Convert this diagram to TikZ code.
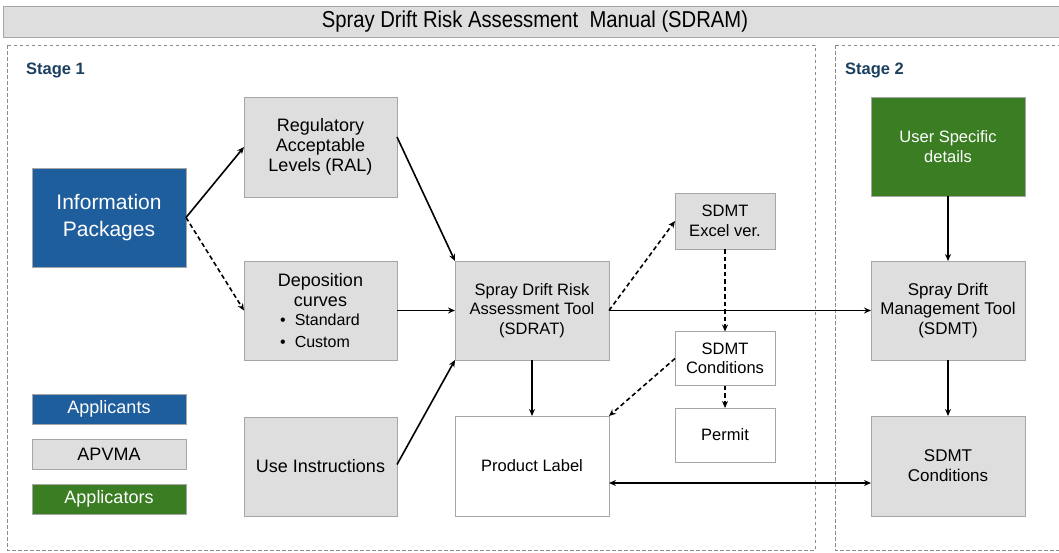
\documentclass[tikz,border=0pt]{standalone}
\usepackage{fontspec}
\setmainfont{Liberation Sans}
\newfontfamily\narrowfont[FakeStretch=0.88]{Liberation Sans}
\usetikzlibrary{arrows.meta}

\definecolor{appblue}{HTML}{1F5E9C}
\definecolor{appgreen}{HTML}{3A7D22}
\definecolor{boxgray}{HTML}{DEDEDE}
\definecolor{edgegray}{HTML}{A6A6A6}
\definecolor{framegray}{HTML}{8C8C8C}
\definecolor{stageblue}{HTML}{1B3F5E}

\tikzset{
  box/.style={draw=edgegray, line width=0.8pt, fill=boxgray, align=center,
    inner sep=2pt, outer sep=0pt, font=\fontsize{18}{20}\selectfont},
  whitebox/.style={box, fill=white},
  bluebox/.style={box, fill=appblue, draw=edgegray, text=white},
  greenbox/.style={box, fill=appgreen, draw=edgegray, text=white},
  frame/.style={draw=framegray, line width=0.9pt, dash pattern=on 3.5pt off 2.5pt},
  arr/.style={draw=black, line width=1.6pt, -{Stealth[length=7pt,width=6pt]}},
  darr/.style={arr, dash pattern=on 4.5pt off 3pt},
  stagelbl/.style={anchor=west, text=stageblue, inner sep=0pt,
    font=\fontsize{16.5}{18}\selectfont\bfseries},
}

\begin{document}
\begin{tikzpicture}[x=1pt, y=-1pt]
\useasboundingbox (0,0) rectangle (1059,552);
\clip (0,0) rectangle (1059,552);

% header bar
\node[box, minimum width=1064pt, minimum height=31pt, anchor=north west,
  font=\narrowfont\fontsize{23}{24}\selectfont] (title) at (3,6)
  {Spray Drift Risk Assessment\ \ Manual (SDRAM)};

% stage frames
\draw[frame] (7,45) rectangle (815,550);
\draw[frame] (835,45) rectangle (1070,550);
\node[stagelbl] (s1) at (26,70) {Stage 1};
\node[stagelbl] (s2) at (845,70) {Stage 2};

% stage 1 nodes
\node[bluebox, minimum width=154pt, minimum height=99pt, font=\fontsize{21}{27}\selectfont]
  (info) at (109,217.5) {Information\\Packages};
\node[box, minimum width=153pt, minimum height=100pt] (ral) at (320.5,147)
  {Regulatory\\Acceptable\\Levels (RAL)};
\node[box, minimum width=153pt, minimum height=99pt] (dep) at (320.5,310.5) {};
\node[align=center, inner sep=0pt, font=\fontsize{18}{19.5}\selectfont] (deptxt) at (320.5,290)
  {Deposition\\curves};
\node[anchor=west, inner sep=0pt, font=\fontsize{16}{18}\selectfont] (std) at (280,320)
  {\textbullet\hspace{9pt}Standard};
\node[anchor=west, inner sep=0pt, font=\fontsize{16}{18}\selectfont] (cus) at (280,342)
  {\textbullet\hspace{9pt}Custom};
\node[box, minimum width=153pt, minimum height=99pt] (use) at (320.5,466.5) {Use Instructions};
\node[box, minimum width=154pt, minimum height=99pt, font=\fontsize{16.5}{19.5}\selectfont]
  (sdrat) at (532,310.5) {Spray Drift Risk\\Assessment Tool\\(SDRAT)};
\node[box, minimum width=100pt, minimum height=56pt, font=\fontsize{16.5}{19.5}\selectfont]
  (excel) at (725,221) {SDMT\\Excel ver.};
\node[whitebox, minimum width=100pt, minimum height=54pt, font=\fontsize{16.5}{19.5}\selectfont]
  (cond) at (725,358.5) {SDMT\\Conditions};
\node[whitebox, minimum width=100pt, minimum height=54pt, font=\fontsize{16.5}{19.5}\selectfont]
  (permit) at (725,435) {Permit};
\node[whitebox, minimum width=154pt, minimum height=100pt, font=\fontsize{16.5}{19.5}\selectfont]
  (label) at (532,466) {Product Label};

% legend
\node[bluebox, minimum width=154pt, minimum height=30pt] (lapp) at (109,409) {Applicants};
\node[box, minimum width=154pt, minimum height=30pt] (lapv) at (109,454) {APVMA};
\node[greenbox, minimum width=154pt, minimum height=30pt] (lapl) at (109,499) {Applicators};

% stage 2 nodes
\node[greenbox, minimum width=154pt, minimum height=99pt, font=\fontsize{16.5}{20}\selectfont]
  (user) at (948,146.5) {User Specific\\details};
\node[box, minimum width=154pt, minimum height=99pt, font=\fontsize{17}{19.5}\selectfont]
  (sdmt) at (948,310.5) {Spray Drift\\Management Tool\\(SDMT)};
\node[box, minimum width=154pt, minimum height=100pt, font=\fontsize{17}{20}\selectfont]
  (cond2) at (948,466) {SDMT\\Conditions};

% connectors
\draw[arr] (info.east) -- (ral.west);
\draw[darr] (info.east) -- (dep.west);
\draw[arr] ([yshift=10pt]ral.east) -- (sdrat.north west);
\draw[arr] (dep.east) -- (sdrat.west);
\draw[arr] ([yshift=2pt]use.east) -- (sdrat.south west);
\draw[darr] (sdrat.east) -- (excel.west);
\draw[arr] (sdrat.east) -- (sdmt.west);
\draw[darr] (excel.south) -- (cond.north);
\draw[darr] (cond.south) -- (permit.north);
\draw[darr] (cond.west) -- (label.north east);
\draw[arr] (sdrat.south) -- (label.north);
\draw[arr, {Stealth[length=7pt,width=6pt]}-{Stealth[length=7pt,width=6pt]}]
  ([yshift=-17pt]label.east) -- ([yshift=-17pt]cond2.west);
\draw[arr] (user.south) -- (sdmt.north);
\draw[arr] (sdmt.south) -- (cond2.north);
\end{tikzpicture}
\end{document}
